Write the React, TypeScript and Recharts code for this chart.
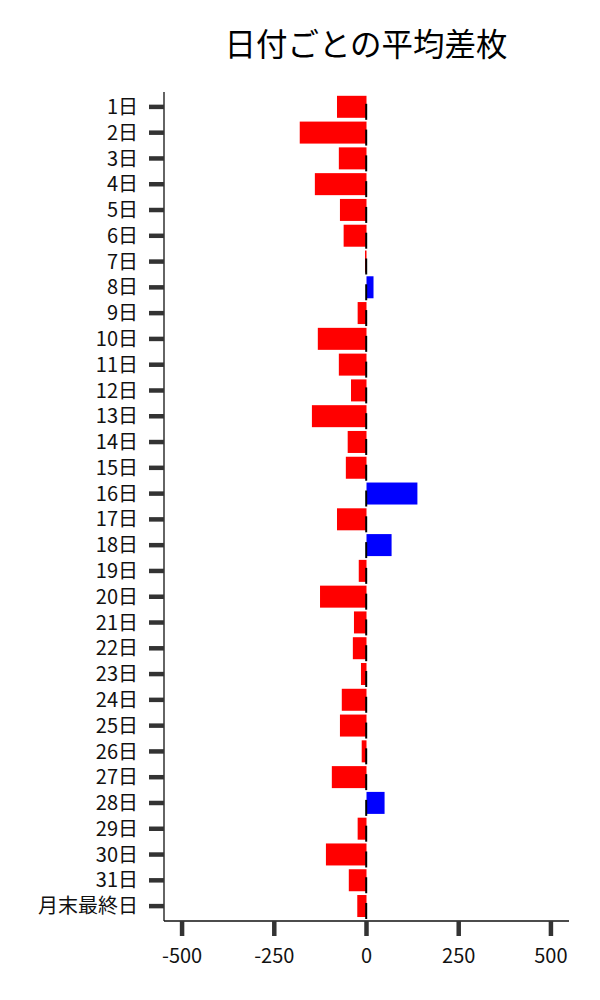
import React from "react";
import { BarChart, Bar, XAxis, YAxis, Cell } from "recharts";

const days: string[] = [
  "1日", "2日", "3日", "4日", "5日", "6日", "7日", "8日", "9日", "10日",
  "11日", "12日", "13日", "14日", "15日", "16日", "17日", "18日", "19日", "20日",
  "21日", "22日", "23日", "24日", "25日", "26日", "27日", "28日", "29日", "30日",
  "31日", "月末最終日",
];

const avgDiff: number[] = [
  -80, -181, -75, -140, -72, -62, -4, 19, -24, -132,
  -75, -42, -148, -51, -56, 138, -80, 68, -21, -126,
  -34, -37, -15, -67, -72, -13, -94, 49, -24, -110,
  -48, -25,
];

const xTicks: number[] = [-500, -250, 0, 250, 500];

const data = days.map((d, i) => ({ day: d, value: avgDiff[i] }));

const FONT = "'Noto Sans CJK JP', 'Noto Sans', sans-serif";

const BarShape = (props: any) => {
  const { x, y, width, height, fill, value } = props;
  const v = Array.isArray(value) ? value[1] - value[0] : value;
  const x0 = Math.min(x, x + width);
  const w = Math.abs(width);
  const zeroX = v < 0 ? x0 + w : x0;
  const cy = y + height / 2;
  return (
    <g>
      <rect x={x0} y={y} width={w} height={height} fill={fill} />
      <line x1={zeroX - 0.3} x2={zeroX - 0.3} y1={cy - 3} y2={cy + 13} stroke="#000" strokeWidth={2} />
    </g>
  );
};

export default function App() {
  return (
    <div style={{ position: "absolute", left: 0, top: 0, width: 600, height: 1000, background: "#fff" }}>
      <div
        style={{
          position: "absolute",
          left: 166,
          width: 400,
          top: 20,
          textAlign: "center",
          fontFamily: FONT,
          fontSize: 31.5,
          lineHeight: "44px",
          color: "#000",
        }}
      >
        日付ごとの平均差枚
      </div>
      <BarChart
        width={600}
        height={1000}
        data={data}
        layout="vertical"
        margin={{ top: 92, right: 31, bottom: 0, left: 0 }}
        barCategoryGap="7%"
      >
        <XAxis
          type="number"
          domain={[-549, 549]}
          ticks={xTicks}
          allowDataOverflow
          height={79}
          tickSize={15}
          tickMargin={13}
          axisLine={{ stroke: "#111", strokeWidth: 1.3 }}
          tickLine={{ stroke: "#333", strokeWidth: 4.5 }}
          tick={{ fill: "#111", fontSize: 20, fontFamily: FONT }}
        />
        <YAxis
          type="category"
          dataKey="day"
          width={164}
          interval={0}
          padding={{ top: 2, bottom: 2 }}
          tickSize={15}
          tickMargin={11}
          axisLine={{ stroke: "#111", strokeWidth: 1.3 }}
          tickLine={{ stroke: "#333", strokeWidth: 4.5 }}
          tick={{ fill: "#111", fontSize: 20, fontFamily: FONT }}
        />
        <Bar dataKey="value" isAnimationActive={false} shape={BarShape}>
          {data.map((d, i) => (
            <Cell key={i} fill={d.value < 0 ? "#ff0000" : "#0000ff"} />
          ))}
        </Bar>
      </BarChart>
    </div>
  );
}
